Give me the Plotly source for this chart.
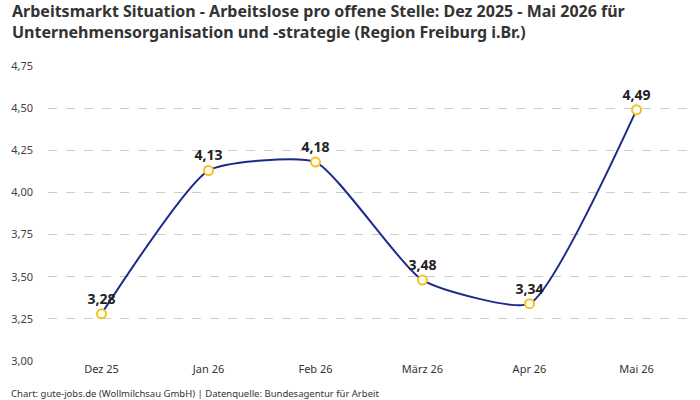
import plotly.graph_objects as go

categories = ["Dez 25", "Jan 26", "Feb 26", "März 26", "Apr 26", "Mai 26"]
values = [3.28, 4.13, 4.18, 3.48, 3.34, 4.49]
labels = ["3,28", "4,13", "4,18", "3,48", "3,34", "4,49"]
y_ticks = [3.00, 3.25, 3.50, 3.75, 4.00, 4.25, 4.50, 4.75]

FONT = "Noto Sans, Roboto, sans-serif"

fig = go.Figure()
fig.add_trace(go.Scatter(
    x=categories, y=values,
    mode="lines+markers+text",
    text=labels, textposition="top center",
    textfont=dict(family=FONT, size=14, color="#222222", weight="bold"),
    line=dict(color="#1b2a8c", width=2, shape="spline", smoothing=0.5),
    marker=dict(size=9, color="white", line=dict(color="#f5c21b", width=2)),
    cliponaxis=False,
    hoverinfo="skip",
))

fig.update_layout(
    width=700, height=400,
    margin=dict(l=48, r=10, t=66, b=39),
    paper_bgcolor="white", plot_bgcolor="white",
    separators=",.",
    showlegend=False,
    font=dict(family=FONT, color="#444444", size=11),
    xaxis=dict(
        type="category", range=[-0.5, 5.5],
        showgrid=False, zeroline=False, showline=False,
        ticks="", tickfont=dict(size=11, color="#333333"),
    ),
    yaxis=dict(
        range=[3.0, 4.75], tickvals=y_ticks,
        tickformat=".2f",
        showgrid=True, gridcolor="#cccccc", griddash="dash", gridwidth=1,
        zeroline=False, showline=False, ticks="",
        ticklabelstandoff=14,
        tickfont=dict(size=11, color="#444444"),
    ),
    annotations=[
        dict(
            text="<b>Arbeitsmarkt Situation - Arbeitslose pro offene Stelle: Dez 2025 - Mai 2026 für<br>Unternehmensorganisation und -strategie (Region Freiburg i.Br.)</b>",
            xref="paper", yref="paper", x=-0.0585, y=1 + 44.5 / 295,
            xanchor="left", yanchor="middle", align="left",
            showarrow=False, font=dict(family=FONT, size=16, color="#333333"),
        ),
        dict(
            text="Chart: gute-jobs.de (Wollmilchsau GmbH) | Datenquelle: Bundesagentur für Arbeit",
            xref="paper", yref="paper", x=-0.061, y=-32 / 295,
            xanchor="left", yanchor="middle",
            showarrow=False, font=dict(family=FONT, size=9.5, color="#333333"),
        ),
    ],
)

fig.write_html("out.html")
